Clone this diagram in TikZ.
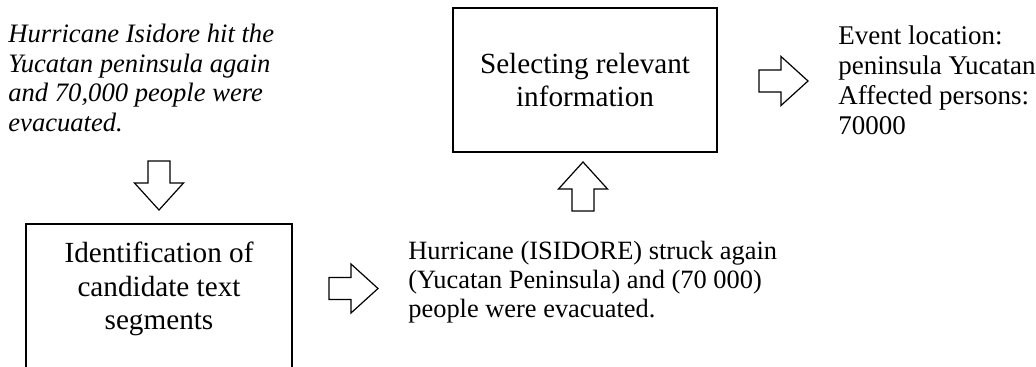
\documentclass[tikz,border=0pt]{standalone}
\usepackage{fontspec}
\setmainfont{Liberation Serif}
\begin{document}
\begin{tikzpicture}[x=0.5pt,y=-0.5pt,
  procbox/.style={draw, line width=1.3pt, inner sep=0pt},
  boxtext/.style={font=\fontsize{14.6}{16.5}\selectfont, align=center, inner sep=0pt},
  plaintext/.style={align=left, inner sep=0pt, anchor=base west},
  pics/blockarrow/.style={code={\draw[line width=0.6pt, line join=miter] (0,-11) -- (22,-11) -- (22,-24.5) -- (49,0) -- (22,24.5) -- (22,11) -- (0,11) -- cycle;}}
]
\useasboundingbox (0,0) rectangle (1036,367);
% source sentence (anchor: baseline of last line)
\node[plaintext, font={\fontsize{13.3}{14.75}\selectfont\itshape}] (src) at (8,131.5)
  {Hurricane Isidore hit the\\Yucatan peninsula again\\and 70,000 people were\\evacuated.};
% identification box
\node[procbox, minimum width=133pt, minimum height=76pt] (identbox) at (159,300) {};
\node[boxtext, anchor=base] (ident) at (159,329) {Identification of\\candidate text\\segments};
% segments text
\node[plaintext, font={\fontsize{13.2}{14.5}\selectfont}] (seg) at (408,318)
  {Hurricane (ISIDORE) struck again\\(Yucatan Peninsula) and (70 000)\\people were evacuated.};
% selecting box
\node[procbox, boxtext, minimum width=132pt, minimum height=72pt] (sel) at (585,80) {Selecting relevant\\information};
% output
\node[plaintext, font={\fontsize{13.5}{15}\selectfont}] (out) at (838,135)
  {Event location:\\peninsula Yucatan\\Affected persons:\\70000};
% block arrows
\coordinate (a1) at (159,161);
\coordinate (a2) at (329,288.5);
\coordinate (a3) at (583,211);
\coordinate (a4) at (759,81);
\pic[rotate=-90] at (a1) {blockarrow};
\pic at (a2) {blockarrow};
\pic[rotate=90] at (a3) {blockarrow};
\pic at (a4) {blockarrow};
\end{tikzpicture}
\end{document}
